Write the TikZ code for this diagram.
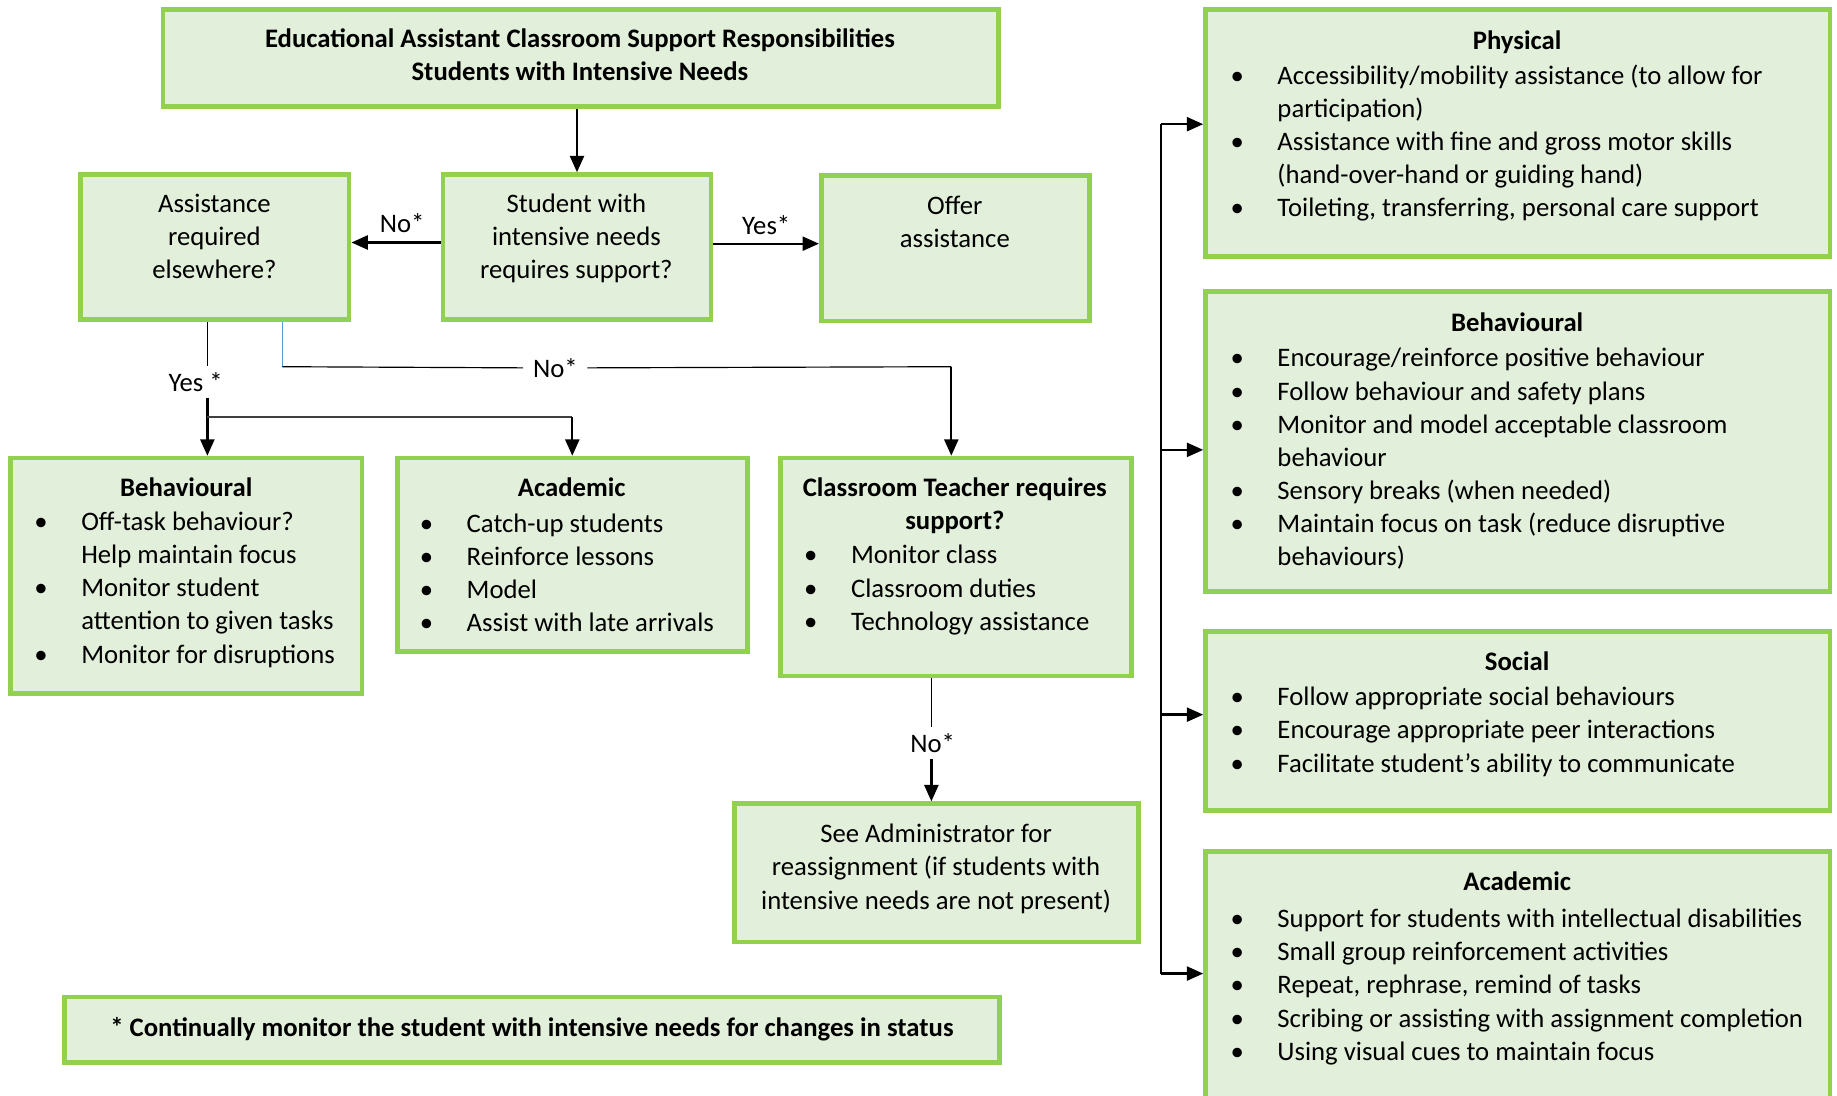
\documentclass[tikz,border=0pt]{standalone}
\usepackage{fontspec}
\setmainfont{Carlito}
\usetikzlibrary{arrows.meta,fit,calc}
\definecolor{efill}{HTML}{E2EFDA}
\definecolor{eline}{HTML}{92D050}
\definecolor{blueline}{HTML}{5B9BD5}
\newcommand\efs{\fontsize{11.4}{14.15}\selectfont}
\newcommand\bul{\makebox[20pt][l]{\textbullet}}
\newcommand\ind{\hspace*{20pt}}
\begin{document}
\begin{tikzpicture}[x=0.5pt,y=-0.5pt,
  box/.style={draw=eline,fill=efill,line width=2pt,inner sep=0pt},
  txt/.style={inner sep=0pt,font=\efs,align=center,anchor=base},
  ttl/.style={inner sep=0pt,font=\efs\bfseries,align=center,anchor=base},
  lst/.style={inner sep=0pt,font=\efs,align=left,anchor=base west},
  arr/.style={line width=1pt,-{Triangle[length=7pt,width=6pt]}},
  thinl/.style={line width=0.5pt},
  lab/.style={inner xsep=4pt,inner ysep=2.5pt,font=\efs}]
\useasboundingbox (0,0) rectangle (1568,935);
\clip (0,0) rectangle (1568,935);

% left / centre boxes (text nodes are placed by the baseline of their last line)
\node[box,fit={(139,8) (852,91)}] (title) {};
\node[ttl] (title-t) at (495,69) {Educational Assistant Classroom Support Responsibilities\\Students with Intensive Needs};

\node[box,fit={(378,149) (607,273)}] (student) {};
\node[txt] (student-t) at (492,238) {Student with\\intensive needs\\requires support?};

\node[box,fit={(69,149) (298,273)}] (assist) {};
\node[txt] (assist-t) at (183,238) {Assistance\\required\\elsewhere?};

\node[box,fit={(701,150) (930,274)}] (offer) {};
\node[txt] (offer-t) at (815,211) {Offer\\assistance};

\node[box,fit={(9,391) (309,592)}] (behL) {};
\node[ttl] (behL-t) at (159,424) {Behavioural};
\node[lst] (behL-l) at (29,566) {\bul Off-task behaviour?\\\ind Help maintain focus\\\bul Monitor student\\\ind attention to given tasks\\\bul Monitor for disruptions};

\node[box,fit={(339,391) (638,556)}] (acadL) {};
\node[ttl] (acadL-t) at (488,424) {Academic};
\node[lst] (acadL-l) at (358,539) {\bul Catch-up students\\\bul Reinforce lessons\\\bul Model\\\bul Assist with late arrivals};

\node[box,fit={(666,391) (966,577)}] (ct) {};
\node[ttl] (ct-t) at (815,452) {Classroom Teacher requires\\support?};
\node[lst] (ct-l) at (686,538) {\bul Monitor class\\\bul Classroom duties\\\bul Technology assistance};

\node[box,fit={(627,686) (972,804)}] (admin) {};
\node[txt] (admin-t) at (799,776) {See Administrator for\\reassignment (if students with\\intensive needs are not present)};

\node[box,fit={(55,851) (853,907)}] (foot) {};
\node[ttl] (foot-t) at (454,885) {* Continually monitor the student with intensive needs for changes in status};

% right column
\node[box,fit={(1029,8) (1562,219)}] (phys) {};
\node[ttl] (phys-t) at (1295,42) {Physical};
\node[lst] (phys-l) at (1050,185) {\bul Accessibility/mobility assistance (to allow for\\\ind participation)\\\bul Assistance with fine and gross motor skills\\\ind (hand-over-hand or guiding hand)\\\bul Toileting, transferring, personal care support};

\node[box,fit={(1029,249) (1562,505)}] (behR) {};
\node[ttl] (behR-t) at (1295,283) {Behavioural};
\node[lst] (behR-l) at (1050,483) {\bul Encourage/reinforce positive behaviour\\\bul Follow behaviour and safety plans\\\bul Monitor and model acceptable classroom\\\ind behaviour\\\bul Sensory breaks (when needed)\\\bul Maintain focus on task (reduce disruptive\\\ind behaviours)};

\node[box,fit={(1029,539) (1562,692)}] (social) {};
\node[ttl] (social-t) at (1295,572) {Social};
\node[lst] (social-l) at (1050,659) {\bul Follow appropriate social behaviours\\\bul Encourage appropriate peer interactions\\\bul Facilitate student’s ability to communicate};

\node[box,fit={(1029,727) (1562,960)}] (acadR) {};
\node[ttl] (acadR-t) at (1295,760) {Academic};
\node[lst] (acadR-l) at (1050,905) {\bul Support for students with intellectual disabilities\\\bul Small group reinforcement activities\\\bul Repeat, rephrase, remind of tasks\\\bul Scribing or assisting with assignment completion\\\bul Using visual cues to maintain focus};

% connectors
\draw[arr] (student.north |- title.south) -- (student.north);
\draw[arr] ($(student.west)+(0,-4)$) -- ($(assist.east)+(0,-4)$) node[lab,pos=0.43,above=1pt] (lno1) {No*};
\draw[arr] ($(student.east)+(0,-3)$) -- ($(offer.west)+(0,-4)$) node[lab,midway,above=1pt] (lyes1) {Yes*};

\node[lab] (lyes2) at (167,326) {Yes *};
\coordinate (yx) at (177,0);
\draw[thinl] (yx |- assist.south) -- (yx |- lyes2.north);
\draw[arr] (yx |- lyes2.south) -- (yx |- behL.north);
\coordinate (jn) at (177,356);
\draw[line width=0.7pt,draw=black!75] (jn) -- (jn -| acadL.north);
\draw[arr] (jn -| acadL.north) -- (acadL.north);

\coordinate (bx) at (241,313);
\draw[blueline,line width=0.5pt] (bx |- assist.south) -- (bx);
\node[lab] (lno2) at (474,314) {No*};
\draw[thinl] (bx) -- (lno2.west);
\coordinate (cx) at (812,313);
\draw[thinl] (lno2.east) -- (cx);
\draw[arr] (cx) -- (cx |- ct.north);

\node[lab] (lno3) at (796,634) {No*};
\coordinate (ax) at (795,0);
\draw[thinl] (ax |- ct.south) -- (ax |- lno3.north);
\draw[arr] (ax |- lno3.south) -- (ax |- admin.north);

\coordinate (b1) at (991,106);
\coordinate (b2) at (991,384);
\coordinate (b3) at (991,610);
\coordinate (b4) at (991,831);
\draw[line width=0.75pt] (b1) -- (b4);
\draw[arr] (b1) -- (b1 -| phys.west);
\draw[arr] (b2) -- (b2 -| behR.west);
\draw[arr] (b3) -- (b3 -| social.west);
\draw[arr] (b4) -- (b4 -| acadR.west);
\end{tikzpicture}
\end{document}
